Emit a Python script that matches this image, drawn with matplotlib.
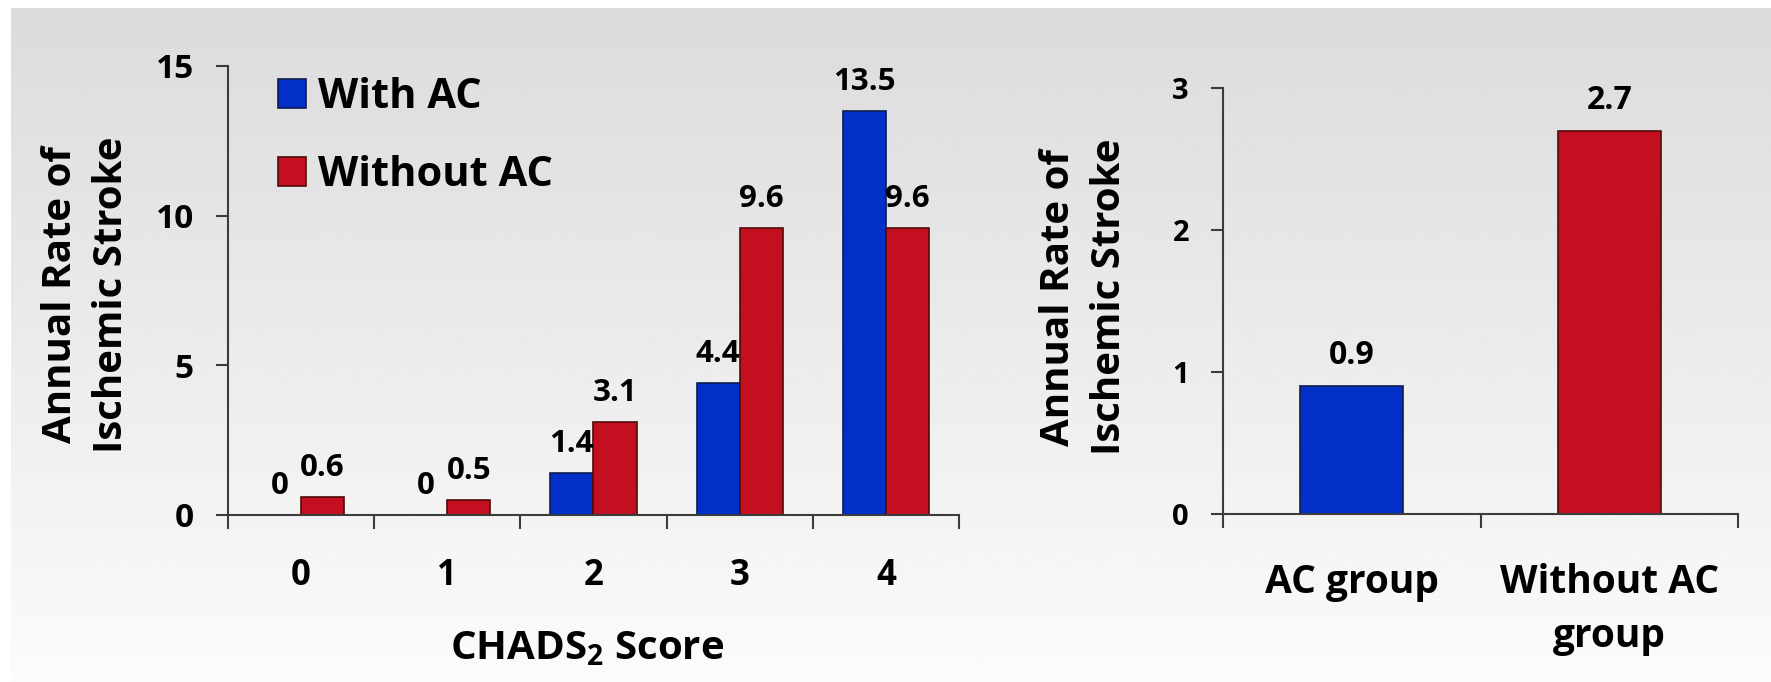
import numpy as np
import matplotlib.pyplot as plt

scores = ['0', '1', '2', '3', '4']
with_ac = np.array([0, 0, 1.4, 4.4, 13.5])
without_ac = np.array([0.6, 0.5, 3.1, 9.6, 9.6])

groups = ['AC group', 'Without AC\ngroup']
group_rates = np.array([0.9, 2.7])

BLUE = '#0030c8'
RED = '#c30f20'
BLUE_EDGE = '#101c50'
RED_EDGE = '#500a0a'
AXIS = '#3c3c3c'


def style_axis(ax, n, tick_size, label_pad, ytick_size):
    ax.patch.set_alpha(0)
    for s in ('top', 'right'):
        ax.spines[s].set_visible(False)
    for s in ('left', 'bottom'):
        ax.spines[s].set_color(AXIS)
        ax.spines[s].set_linewidth(1.5)
    ax.set_xlim(-0.5, n - 0.5)
    # boundary ticks between categories, labels sit on minor ticks
    ax.set_xticks(np.arange(-0.5, n, 1.0))
    ax.set_xticklabels([])
    ax.tick_params(axis='x', which='major', direction='out', length=10, width=1.5, color=AXIS)
    ax.tick_params(axis='x', which='minor', length=0, pad=label_pad, labelsize=tick_size)
    ax.tick_params(axis='y', direction='out', length=8.5, width=1.5, color=AXIS,
                   pad=16, labelsize=ytick_size)


def label_bars(ax, bars, vals, size):
    for rect, v in zip(bars, vals):
        ax.annotate(f'{v:g}', (rect.get_x() + rect.get_width() / 2, v),
                    xytext=(0, 10), textcoords='offset points',
                    ha='center', va='bottom', fontsize=size)


def main():
    plt.rcParams['font.family'] = 'Open Sans'
    plt.rcParams['font.weight'] = 'bold'
    plt.rcParams['mathtext.fontset'] = 'custom'
    plt.rcParams['mathtext.rm'] = 'Open Sans:bold'
    plt.rcParams['mathtext.default'] = 'rm'

    fig = plt.figure(figsize=(17.71, 6.82), dpi=100)
    fig.patch.set_facecolor('white')

    # grey backdrop fading towards white at the bottom
    bg = fig.add_axes([11 / 1771, 0, 1 - 11 / 1771, 1 - 8 / 682], zorder=-10)
    grad = np.linspace(0.86, 0.985, 256).reshape(-1, 1)
    bg.imshow(grad, cmap='gray', vmin=0, vmax=1, aspect='auto',
              extent=[0, 1, 0, 1], origin='upper')
    bg.axis('off')

    # CHADS2 breakdown
    ax1 = fig.add_axes([0.1287, 0.2449, 0.4128, 0.6584])
    x = np.arange(len(scores))
    w = 0.295
    b1 = ax1.bar(x - w / 2, with_ac, w, color=BLUE, edgecolor=BLUE_EDGE,
                 linewidth=1.2, label='With AC')
    b2 = ax1.bar(x + w / 2, without_ac, w, color=RED, edgecolor=RED_EDGE,
                 linewidth=1.2, label='Without AC')
    label_bars(ax1, b1, with_ac, 22.5)
    label_bars(ax1, b2, without_ac, 22.5)
    style_axis(ax1, len(scores), 25, 31, 24)
    ax1.set_xticks(x, scores, minor=True)
    ax1.set_ylim(0, 15)
    ax1.set_yticks([0, 5, 10, 15])
    ax1.text(-0.194, 0.49, 'Annual Rate of\nIschemic Stroke', transform=ax1.transAxes,
             rotation=90, ha='center', va='center', fontsize=29, linespacing=1.4)
    ax1.text(0.491, -0.321, r'CHADS$_2$ Score', transform=ax1.transAxes,
             ha='center', va='baseline', fontsize=29)
    ax1.legend(loc='upper left', bbox_to_anchor=(0.068, 0.975), frameon=False,
               fontsize=30, handlelength=0.68, handleheight=0.68,
               handletextpad=0.3, labelspacing=0.88, borderpad=0, borderaxespad=0)

    # overall comparison
    ax2 = fig.add_axes([0.6906, 0.2463, 0.2908, 0.6246])
    xg = np.arange(len(groups))
    b3 = ax2.bar(xg, group_rates, 0.40, color=[BLUE, RED],
                 edgecolor=[BLUE_EDGE, RED_EDGE], linewidth=1.2)
    label_bars(ax2, b3, group_rates, 23)
    style_axis(ax2, len(groups), 28, 35, 21)
    ax2.set_xticks(xg, groups, minor=True)
    for t in ax2.get_xticklabels(minor=True):
        t.set_linespacing(1.5)
    ax2.set_ylim(0, 3)
    ax2.set_yticks([0, 1, 2, 3])
    ax2.text(-0.27, 0.509, 'Annual Rate of\nIschemic Stroke', transform=ax2.transAxes,
             rotation=90, ha='center', va='center', fontsize=29, linespacing=1.4)

    plt.savefig('out.png', dpi=100)


if __name__ == "__main__":
    main()
